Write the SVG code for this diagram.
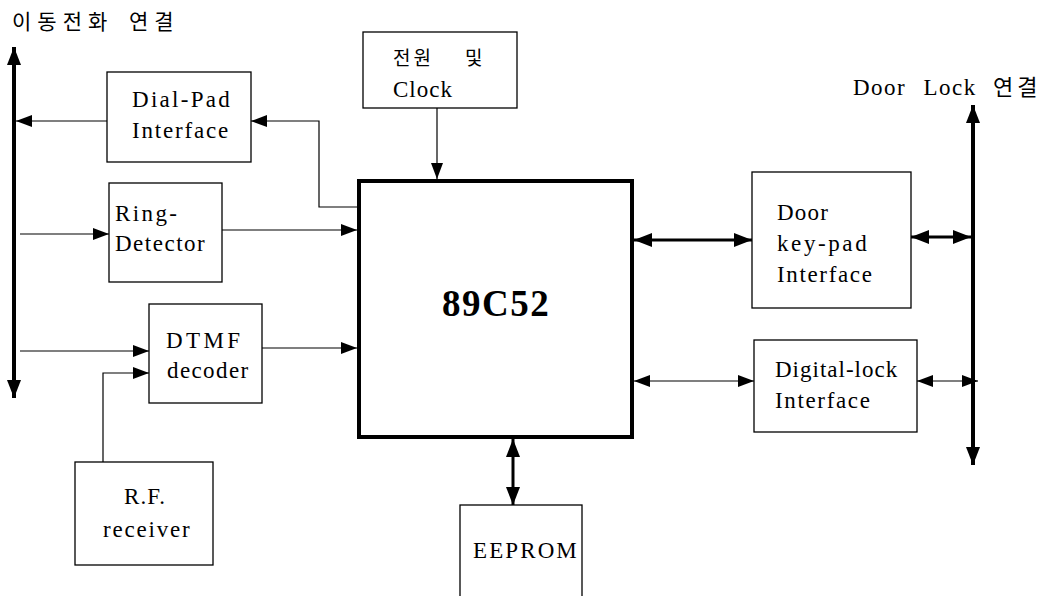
<svg xmlns="http://www.w3.org/2000/svg" width="1055" height="596" viewBox="0 0 1055 596">
<style>
.box{fill:#fff;stroke:#000;stroke-width:1.3}
.chip{fill:#fff;stroke:#000;stroke-width:4}
.thin{fill:none;stroke:#000;stroke-width:1.2}
.med{fill:none;stroke:#000;stroke-width:3}
.bus{fill:none;stroke:#000;stroke-width:4}
</style>
<defs>
<marker id="ah" viewBox="0 0 16 12" refX="16" refY="6" markerWidth="16" markerHeight="12" markerUnits="userSpaceOnUse" orient="auto-start-reverse">
<path d="M0,0 L16,6 L0,12 z" fill="#000"/>
</marker>
<marker id="ahb" viewBox="0 0 18 14" refX="18" refY="7" markerWidth="18" markerHeight="14" markerUnits="userSpaceOnUse" orient="auto-start-reverse">
<path d="M0,0 L18,7 L0,14 z" fill="#000"/>
</marker>
</defs>
<rect width="1055" height="596" fill="#fff"/>

<g id="title-left" font-family="Noto Sans CJK KR, Noto Sans, sans-serif" font-size="21" fill="#000">
<text x="12" y="29" letter-spacing="6" word-spacing="5">이동전화 연결</text>
</g>
<g id="title-right" fill="#000">
<text x="853" y="95" font-family="Liberation Serif, serif" font-size="23" letter-spacing="1.5" word-spacing="10">Door Lock</text>
<text x="993" y="95" font-family="Noto Sans CJK KR, sans-serif" font-size="22" letter-spacing="4">연결</text>
</g>

<g id="connectors">
<line class="bus" x1="14" y1="398" x2="14" y2="47" marker-start="url(#ahb)" marker-end="url(#ahb)"/>
<line class="bus" x1="973" y1="465" x2="973" y2="105" marker-start="url(#ahb)" marker-end="url(#ahb)"/>
<line class="thin" x1="107" y1="121" x2="16" y2="121" marker-end="url(#ah)"/>
<polyline class="thin" points="359,207 319,207 319,121 251,121" marker-end="url(#ah)"/>
<line class="thin" x1="20" y1="234" x2="109" y2="234" marker-end="url(#ah)"/>
<line class="thin" x1="222" y1="230" x2="357" y2="230" marker-end="url(#ah)"/>
<line class="thin" x1="20" y1="351" x2="149" y2="351" marker-end="url(#ah)"/>
<polyline class="thin" points="103,462 103,373 149,373" marker-end="url(#ah)"/>
<line class="thin" x1="262" y1="348" x2="357" y2="348" marker-end="url(#ah)"/>
<line class="thin" x1="437" y1="108" x2="437" y2="179" marker-end="url(#ah)"/>
<line class="med" x1="513" y1="439" x2="513" y2="505" marker-start="url(#ahb)" marker-end="url(#ahb)"/>
<line class="med" x1="634" y1="240" x2="752" y2="240" marker-start="url(#ahb)" marker-end="url(#ahb)"/>
<line class="thin" x1="634" y1="381" x2="754" y2="381" marker-start="url(#ah)" marker-end="url(#ah)"/>
<line class="med" x1="911" y1="237" x2="971" y2="237" marker-start="url(#ahb)" marker-end="url(#ahb)"/>
<line class="thin" x1="917" y1="381" x2="978" y2="381" marker-start="url(#ah)" marker-end="url(#ah)"/>
</g>

<g font-family="Liberation Serif, Times New Roman, serif" font-size="23" fill="#000">
<g id="dial-pad">
<rect class="box" x="107" y="72" width="144" height="90"/>
<text x="132" y="107" letter-spacing="2.3">Dial-Pad</text>
<text x="132" y="138" letter-spacing="1.8">Interface</text>
</g>
<g id="ring-detector">
<rect class="box" x="109" y="183" width="113" height="99"/>
<text x="115" y="221" letter-spacing="2.4">Ring-</text>
<text x="115" y="251" letter-spacing="1.5">Detector</text>
</g>
<g id="dtmf">
<rect class="box" x="149" y="304" width="113" height="99"/>
<text x="166" y="348" letter-spacing="3.4">DTMF</text>
<text x="167" y="378" letter-spacing="1.4">decoder</text>
</g>
<g id="rf-receiver">
<rect class="box" x="75" y="462" width="138" height="103"/>
<text x="124" y="504" letter-spacing="1.1">R.F.</text>
<text x="103" y="537" letter-spacing="1.8">receiver</text>
</g>
<g id="power-clock">
<rect class="box" x="363" y="32" width="154" height="76"/>
<text x="393" y="65" font-family="Noto Sans CJK KR, sans-serif" font-size="19" letter-spacing="3">전원</text>
<text x="465" y="65" font-family="Noto Sans CJK KR, sans-serif" font-size="19">및</text>
<text x="393" y="97" letter-spacing="1">Clock</text>
</g>
<g id="mcu">
<rect class="chip" x="359" y="181" width="273" height="256"/>
<text x="442" y="316" font-size="37" font-weight="bold" letter-spacing="1.5">89C52</text>
</g>
<g id="eeprom">
<rect class="box" x="460" y="505" width="122" height="100"/>
<text x="473" y="558" letter-spacing="2.1">EEPROM</text>
</g>
<g id="door-keypad">
<rect class="box" x="752" y="172" width="159" height="136"/>
<text x="777" y="220" letter-spacing="1.2">Door</text>
<text x="777" y="251" letter-spacing="2.6">key-pad</text>
<text x="777" y="282" letter-spacing="1.65">Interface</text>
</g>
<g id="digital-lock">
<rect class="box" x="754" y="340" width="163" height="92"/>
<text x="775" y="377" letter-spacing="1">Digital-lock</text>
<text x="775" y="408" letter-spacing="1.65">Interface</text>
</g>
</g>
</svg>
